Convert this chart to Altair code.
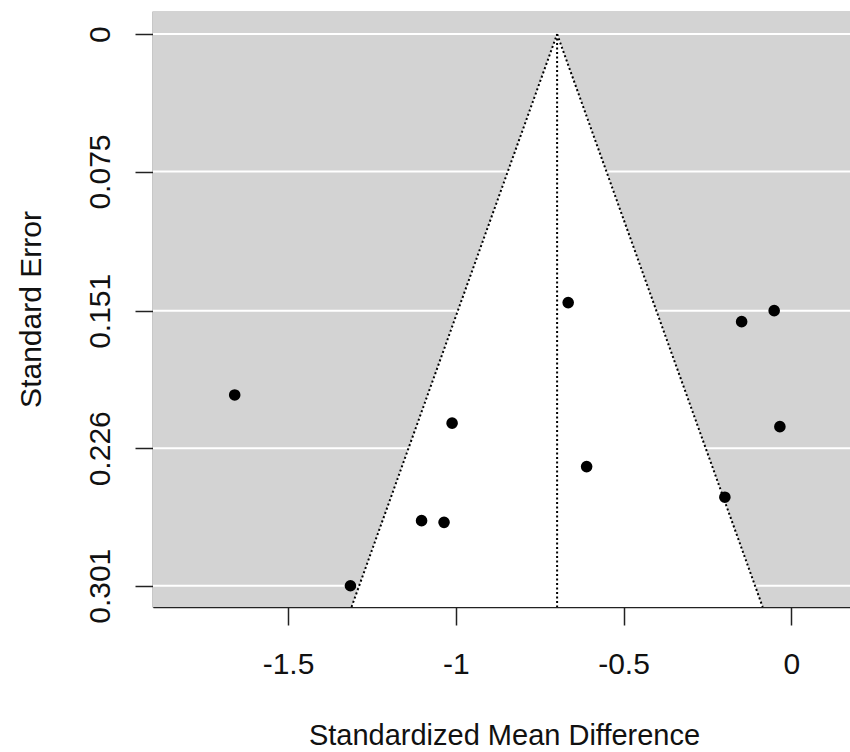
import altair as alt
import pandas as pd

# Study data
smd = [-0.665, -0.148, -0.051, -1.659, -1.011, -0.034, -0.610, -0.198, -1.102, -1.035, -1.314]
se = [0.1465, 0.1569, 0.1509, 0.1969, 0.2123, 0.2142, 0.2360, 0.2527, 0.2655, 0.2664, 0.301]

pooled = -0.698
z = 1.96

x_ticks = [-1.5, -1.0, -0.5, 0.0]
y_ticks = [0.0, 0.075, 0.151, 0.226, 0.301]

x_domain = [-1.9025, 0.175]
y_domain = [-0.0126, 0.3126]

W, H = 697, 596
FONT = "Liberation Sans"

pts = pd.DataFrame({"smd": smd, "se": se})
ymax = y_domain[1]
funnel = pd.DataFrame({
    "se": [0.0, ymax],
    "lo": [pooled, pooled - z * ymax],
    "hi": [pooled, pooled + z * ymax],
})
grid = pd.DataFrame({"t": y_ticks})
one = pd.DataFrame({"a": [0]})

xs = alt.Scale(domain=x_domain, nice=False, zero=False)
ys = alt.Scale(domain=y_domain, nice=False, zero=False, reverse=True)

x_axis = alt.Axis(
    values=x_ticks, labelExpr="toString(datum.value)", grid=False,
    tickSize=18, tickWidth=1.5, tickColor="#222", domainColor="#222", domainWidth=1.5,
    labelFontSize=30, labelFont=FONT, labelColor="#111", labelPadding=48,
    labelBaseline="alphabetic", labelFlush=False,
    title="Standardized Mean Difference", titleFont=FONT, titleFontSize=29,
    titleFontWeight="normal", titleColor="#111", titleX=351, titleY=137,
    titleBaseline="alphabetic", titleAlign="center",
)
y_axis = alt.Axis(
    values=y_ticks, labelExpr="toString(datum.value)", grid=False,
    tickSize=18, tickWidth=1.5, tickColor="#222", domainColor="#222", domainWidth=1.5,
    labelFontSize=30, labelFont=FONT, labelColor="#111", labelPadding=26,
    labelAngle=270, labelAlign="center", labelBaseline="alphabetic", labelFlush=False,
    title="Standard Error", titleFont=FONT, titleFontSize=30, titleFontWeight="normal",
    titleColor="#111", titleAngle=270, titleX=-113, titleY=298,
    titleBaseline="alphabetic", titleAlign="center",
)

bg = alt.Chart(one).mark_rect(color="#D3D3D3").encode(
    x=alt.value(0), x2=alt.value(W), y=alt.value(0), y2=alt.value(H)
)

gridlines = alt.Chart(grid).mark_rule(color="white", strokeWidth=2).encode(
    y=alt.Y("t:Q", scale=ys, axis=y_axis)
)

tri = alt.Chart(funnel).mark_area(color="white", opacity=1, orient="horizontal").encode(
    y=alt.Y("se:Q", scale=ys, axis=y_axis),
    x=alt.X("lo:Q", scale=xs, axis=x_axis),
    x2="hi:Q",
)

dash = dict(color="black", strokeWidth=2, strokeDash=[2, 2.5])

left_line = alt.Chart(funnel).mark_line(**dash).encode(
    x=alt.X("lo:Q", scale=xs), y=alt.Y("se:Q", scale=ys)
)
right_line = alt.Chart(funnel).mark_line(**dash).encode(
    x=alt.X("hi:Q", scale=xs), y=alt.Y("se:Q", scale=ys)
)
mid_line = alt.Chart(pd.DataFrame({"x": [pooled, pooled], "se": [0.0, ymax]})).mark_line(
    **dash
).encode(x=alt.X("x:Q", scale=xs), y=alt.Y("se:Q", scale=ys))

points = alt.Chart(pts).mark_circle(color="black", opacity=1, size=135).encode(
    x=alt.X("smd:Q", scale=xs), y=alt.Y("se:Q", scale=ys)
)

chart = alt.layer(bg, gridlines, tri, left_line, right_line, mid_line, points).properties(
    width=W, height=H,
    autosize=alt.AutoSizeParams(type="none"),
    padding={"left": 153, "top": 11, "right": 0, "bottom": 145},
).configure_view(stroke=None).configure(background="white")

chart.save("out.html", embed_options={"renderer": "svg", "actions": False})
